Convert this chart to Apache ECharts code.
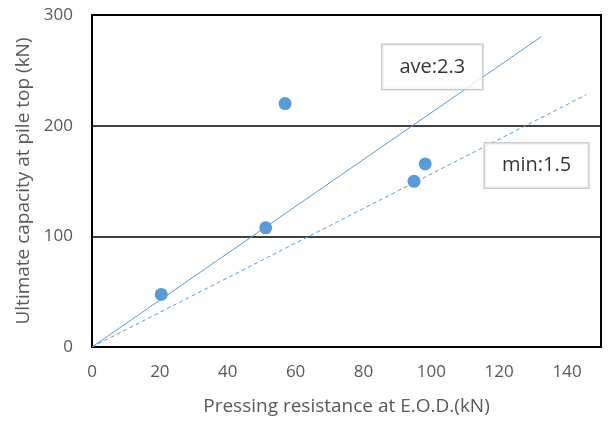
<!DOCTYPE html>
<html>
<head>
<meta charset="utf-8">
<script src="https://cdn.jsdelivr.net/npm/echarts@6/dist/echarts.min.js"></script>
<style>
  html, body { margin: 0; padding: 0; background: #fff; }
  #main { width: 608px; height: 421px; }
</style>
</head>
<body>
<div id="main"></div>
<script>
// measured points (pressing resistance, ultimate capacity)
const points = [[20.4, 47.5], [51.2, 107.7], [56.9, 220], [94.9, 149.7], [98.2, 165.4]];
// fitted lines from origin
const aveLine = [[0, 0], [132.4, 280.4]];
const minLine = [[0, 0], [145.7, 228]];
// text boxes: [x, y, text]
const notes = [[100.3, 253, 'ave:2.3'], [131, 164, 'min:1.5']];
const xTicks = [0, 20, 40, 60, 80, 100, 120, 140];

const blue = '#5b9bd5';
const grey = '#595959';
const font = '"Open Sans", "Liberation Sans", sans-serif';

const chart = echarts.init(document.getElementById('main'));
chart.setOption({
  animation: false,
  textStyle: { fontFamily: font },
  grid: {
    left: 92, right: 7, top: 15, bottom: 73,
    show: true, borderColor: '#000', borderWidth: 2
  },
  xAxis: {
    type: 'value', min: 0, max: 150, interval: 20,
    name: 'Pressing resistance at E.O.D.(kN)',
    nameLocation: 'middle', nameGap: 50,
    nameTextStyle: { color: grey, fontSize: 19, fontFamily: font },
    axisLine: { show: false }, axisTick: { show: false }, splitLine: { show: false },
    axisLabel: {
      color: grey, fontSize: 17, margin: 17, fontFamily: font,
      formatter: v => xTicks.indexOf(v) >= 0 ? String(v) : ''
    }
  },
  yAxis: {
    type: 'value', min: 0, max: 300, interval: 100,
    name: 'Ultimate capacity at pile top (kN)',
    nameLocation: 'middle', nameGap: 59,
    nameTextStyle: { color: grey, fontSize: 19, fontFamily: font },
    axisLine: { show: false }, axisTick: { show: false },
    splitLine: { show: true, lineStyle: { color: '#000', width: 1.5 } },
    axisLabel: { color: grey, fontSize: 17, margin: 19, fontFamily: font }
  },
  series: [
    {
      type: 'line', data: aveLine, symbol: 'none',
      lineStyle: { color: blue, width: 1 }, z: 2
    },
    {
      type: 'line', data: minLine, symbol: 'none',
      lineStyle: { color: blue, width: 1, type: [4, 3] }, z: 2
    },
    {
      type: 'scatter', data: points, symbolSize: 13,
      itemStyle: { color: blue, opacity: 1 }, z: 3
    },
    {
      type: 'scatter', data: notes, symbolSize: 0, z: 4,
      label: {
        show: true, position: 'inside',
        formatter: p => p.data[2],
        color: '#000', fontSize: 20, lineHeight: 22, fontFamily: font,
        backgroundColor: '#fff', borderColor: '#bfbfbf', borderWidth: 1.5,
        padding: [11, 17, 11, 17]
      }
    }
  ]
});
</script>
</body>
</html>
